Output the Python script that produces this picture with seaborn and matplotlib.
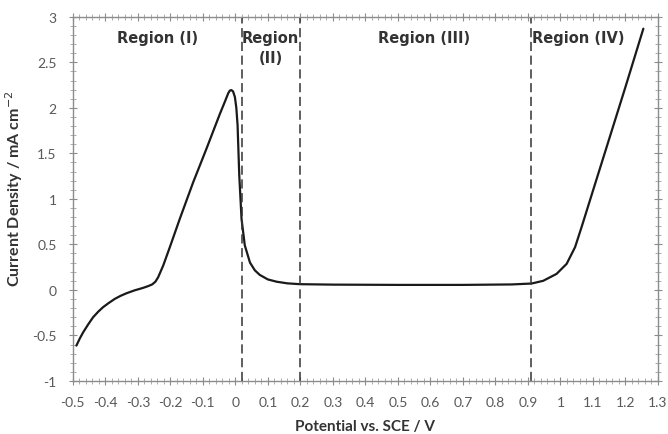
import numpy as np
import pandas as pd
import matplotlib
matplotlib.use("Agg")
import matplotlib.pyplot as plt
from matplotlib.ticker import MultipleLocator, FuncFormatter
import seaborn as sns

# Data
potential = [-0.489, -0.478, -0.468, -0.452, -0.4375, -0.422, -0.407, -0.39, -0.371, -0.353,
             -0.335, -0.31, -0.284, -0.268, -0.256, -0.246, -0.2375, -0.222, -0.2015, -0.171, -0.13,
             -0.089, -0.048, -0.032, -0.022, -0.017, -0.012, -0.007, -0.0015, 0.003, 0.0068, 0.012, 0.019, 0.029,
             0.045, 0.06, 0.075, 0.1, 0.127, 0.16, 0.198, 0.3, 0.5, 0.7,
             0.85, 0.911, 0.947, 0.988, 1.019, 1.045, 1.065, 1.1, 1.15, 1.2, 1.255]
current = [-0.612, -0.53, -0.465, -0.375, -0.30, -0.24, -0.19, -0.145, -0.099, -0.065,
           -0.037, -0.005, 0.022, 0.042, 0.060, 0.090, 0.139, 0.267, 0.47, 0.78, 1.18,
           1.55, 1.93, 2.07, 2.16, 2.19, 2.195, 2.18, 2.12, 2.0, 1.81, 1.26, 0.78, 0.49,
           0.30, 0.215, 0.165, 0.115, 0.09, 0.072, 0.063, 0.058, 0.055, 0.055,
           0.06, 0.07, 0.10, 0.176, 0.286, 0.47, 0.69, 1.09, 1.66, 2.23, 2.87]
region_bounds = [0.02, 0.20, 0.91]
region_labels = ["Region (I)", "Region\n(II)", "Region (III)", "Region (IV)"]
region_label_x = [-0.24, 0.108, 0.58, 1.055]
x_ticks = [-0.5, -0.4, -0.3, -0.2, -0.1, 0, 0.1, 0.2, 0.3, 0.4, 0.5, 0.6, 0.7, 0.8, 0.9, 1, 1.1, 1.2, 1.3]
y_ticks = [-1, -0.5, 0, 0.5, 1, 1.5, 2, 2.5, 3]

df = pd.DataFrame({"Potential": potential, "Current": current})

sns.set_style("white")
plt.rcParams["font.family"] = ["Lato", "DejaVu Sans"]

fig = plt.figure(figsize=(6.68, 4.35), dpi=100)
ax = fig.add_axes([0.109, 0.122, 0.876, 0.837])

sns.lineplot(data=df, x="Potential", y="Current", ax=ax, color="#1a1a1a",
             linewidth=1.6, sort=False)

for b in region_bounds:
    ax.axvline(b, color="#333333", linestyle=(0, (6, 3)), linewidth=1.1)

for lbl, lx in zip(region_labels, region_label_x):
    ax.text(lx, 2.86, lbl, ha="center", va="top", fontsize=10.5,
            fontweight="bold", color="#333333", linespacing=1.45,
            family=["DejaVu Sans"])

ax.set_xlim(-0.5, 1.3)
ax.set_ylim(-1, 3)
ax.set_xticks(x_ticks)
ax.set_yticks(y_ticks)
ax.xaxis.set_minor_locator(MultipleLocator(0.02))
ax.yaxis.set_minor_locator(MultipleLocator(0.1))

def fmt(v, pos):
    s = f"{v:.1f}"
    if s.endswith(".0"):
        s = s[:-2]
    if s == "-0":
        s = "0"
    return s

ax.xaxis.set_major_formatter(FuncFormatter(fmt))
ax.yaxis.set_major_formatter(FuncFormatter(fmt))

for sp in ax.spines.values():
    sp.set_color("#8c8c8c")
    sp.set_linewidth(1.0)

ax.tick_params(which="major", direction="inout", length=6, width=0.8,
               color="#8c8c8c", labelsize=10, labelcolor="#595959",
               top=True, right=True, bottom=True, left=True)
ax.tick_params(which="minor", direction="inout", length=4, width=0.6,
               color="#a0a0a0", top=True, right=True, bottom=True, left=True)
ax.tick_params(axis="x", which="major", pad=8)
ax.tick_params(axis="y", which="major", pad=8.5)
ax.tick_params(axis="x", labeltop=False)
ax.tick_params(axis="y", labelright=False)

ax.set_xlabel("Potential vs. SCE / V", fontsize=11, fontweight="bold",
              color="#333333")
ax.set_ylabel("Current Density / mA cm$^{-2}$", fontsize=11.5, fontweight="bold",
              color="#333333")
ax.xaxis.set_label_coords(0.5, -0.105)
ax.yaxis.set_label_coords(-0.082, 0.53)

fig.savefig("out.png", dpi=100, facecolor="white")
